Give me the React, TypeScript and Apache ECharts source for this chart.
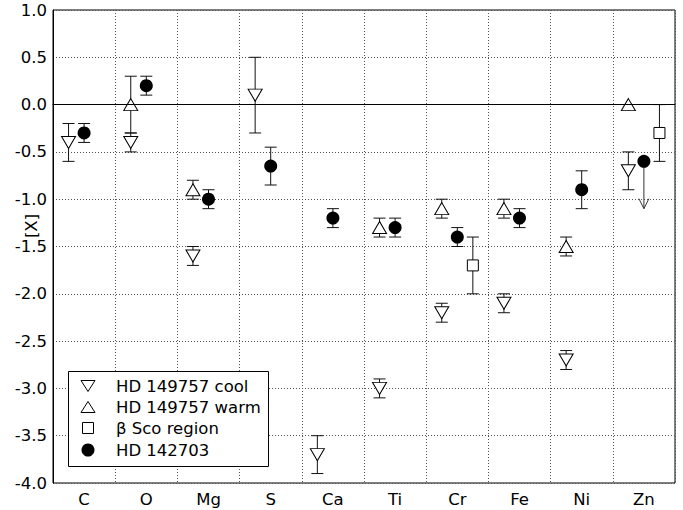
import React, { useEffect, useRef } from "react";
import * as echarts from "echarts";

const elements = ["C", "O", "Mg", "S", "Ca", "Ti", "Cr", "Fe", "Ni", "Zn"];
const yTicks = [-4, -3.5, -3, -2.5, -2, -1.5, -1, -0.5, 0, 0.5, 1];

const coolValues = [-0.4, -0.4, -1.6, 0.1, -3.7, -3.0, -2.2, -2.1, -2.7, -0.7];
const coolErrors = [0.2, 0.1, 0.1, 0.4, 0.2, 0.1, 0.1, 0.1, 0.1, 0.2];

const warmValues = [null, 0.0, -0.9, null, null, -1.3, -1.1, -1.1, -1.5, 0.0];
const warmErrors = [null, 0.3, 0.1, null, null, 0.1, 0.1, 0.1, 0.1, 0];

const scoValues = [null, null, null, null, null, null, -1.7, null, null, -0.3];
const scoErrors = [null, null, null, null, null, null, 0.3, null, null, 0.3];

const hdValues = [-0.3, 0.2, -1.0, -0.65, -1.2, -1.3, -1.4, -1.2, -0.9, -0.6];
const hdErrors = [0.1, 0.1, 0.1, 0.2, 0.1, 0.1, 0.1, 0.1, 0.2, null];
const hdUpperLimitEnd = [null, null, null, null, null, null, null, null, null, -1.1];

const seriesNames = ["HD 149757 cool", "HD 149757 warm", "β Sco region", "HD 142703"];

const FONT = "DejaVu Sans";

function points(values: (number | null)[], offset: number) {
  const out: number[][] = [];
  values.forEach((v, i) => {
    if (v !== null) out.push([i + 0.5 + offset, v]);
  });
  return out;
}

function errs(values: (number | null)[], errors: (number | null)[], offset: number) {
  const out: number[][] = [];
  values.forEach((v, i) => {
    const e = errors[i];
    if (v !== null && e !== null && e > 0) out.push([i + 0.5 + offset, v - e, v + e]);
  });
  return out;
}

function limits(values: (number | null)[], ends: (number | null)[], offset: number) {
  const out: number[][] = [];
  values.forEach((v, i) => {
    const e = ends[i];
    if (v !== null && e !== null) out.push([i + 0.5 + offset, v, e]);
  });
  return out;
}

const errorRender = (params: any, api: any) => {
  const x = api.value(0);
  const lo = api.coord([x, api.value(1)]);
  const hi = api.coord([x, api.value(2)]);
  const half = 6;
  const st = { stroke: "#111", lineWidth: 1 };
  return {
    type: "group",
    children: [
      { type: "line", shape: { x1: lo[0], y1: lo[1], x2: hi[0], y2: hi[1] }, style: st },
      { type: "line", shape: { x1: lo[0] - half, y1: lo[1], x2: lo[0] + half, y2: lo[1] }, style: st },
      { type: "line", shape: { x1: hi[0] - half, y1: hi[1], x2: hi[0] + half, y2: hi[1] }, style: st },
    ],
  };
};

const limitRender = (params: any, api: any) => {
  const x = api.value(0);
  const a = api.coord([x, api.value(1)]);
  const b = api.coord([x, api.value(2)]);
  const st = { stroke: "#333", lineWidth: 1, fill: "none" };
  return {
    type: "group",
    children: [
      { type: "line", shape: { x1: a[0], y1: a[1], x2: b[0], y2: b[1] }, style: st },
      {
        type: "polyline",
        shape: { points: [[b[0] - 5, b[1] - 10], [b[0], b[1]], [b[0] + 5, b[1] - 10]] },
        style: st,
      },
    ],
  };
};

export default function App() {
  const ref = useRef<HTMLDivElement>(null);
  useEffect(() => {
    if (!ref.current) return;
    const chart = echarts.init(ref.current, null, { renderer: "svg" });
    const open = { color: "#fff", borderColor: "#000", borderWidth: 1, opacity: 1 };
    const offCool = -0.25;
    const offWarm = -0.25;
    const offHd = 0;
    const offSco = 0.25;

    const lx = 88;
    const rows = [386, 407, 428, 450];

    chart.setOption({
      animation: false,
      backgroundColor: "#fff",
      grid: {
        left: 53,
        right: 8,
        top: 10,
        bottom: 27,
        show: true,
        borderColor: "#000",
        borderWidth: 1,
        backgroundColor: "transparent",
      },
      xAxis: [
        {
          type: "value",
          min: 0,
          max: 10,
          interval: 1,
          axisLine: { show: true, lineStyle: { color: "#000" } },
          axisTick: { show: false },
          axisLabel: { show: false },
          splitLine: { show: true, lineStyle: { color: "#555", type: [1, 2], width: 1 } },
        },
        {
          type: "category",
          data: elements,
          position: "bottom",
          boundaryGap: true,
          axisLine: { show: false },
          axisTick: { show: false },
          splitLine: { show: false },
          axisLabel: { color: "#000", fontFamily: FONT, fontSize: 16.5, margin: 8 },
        },
      ],
      yAxis: {
        type: "value",
        min: yTicks[0],
        max: yTicks[yTicks.length - 1],
        interval: 0.5,
        axisLine: { show: true, lineStyle: { color: "#000" } },
        axisTick: { show: false },
        axisLabel: {
          color: "#000",
          fontFamily: FONT,
          fontSize: 16.5,
          margin: 6,
          formatter: (v: number) => v.toFixed(1),
        },
        splitLine: { show: true, lineStyle: { color: "#555", type: [1, 2], width: 1 } },
      },
      graphic: [
        {
          type: "text",
          x: 31,
          y: 226,
          rotation: Math.PI / 2,
          style: {
            text: "[X]",
            fontFamily: FONT,
            fontSize: 16.5,
            fill: "#000",
            textAlign: "center",
            textVerticalAlign: "middle",
          },
          z: 10,
        },
        {
          type: "rect",
          shape: { x: 68.5, y: 371.5, width: 200, height: 95 },
          style: { fill: "#fff", stroke: "#000", lineWidth: 1 },
          z: 10,
        },
        {
          type: "polygon",
          shape: { points: [[lx - 7, rows[0] - 5.5], [lx + 7, rows[0] - 5.5], [lx, rows[0] + 5.5]] },
          style: { fill: "#fff", stroke: "#000", lineWidth: 1 },
          z: 11,
        },
        {
          type: "polygon",
          shape: { points: [[lx, rows[1] - 5.5], [lx + 7, rows[1] + 5.5], [lx - 7, rows[1] + 5.5]] },
          style: { fill: "#fff", stroke: "#000", lineWidth: 1 },
          z: 11,
        },
        {
          type: "rect",
          shape: { x: lx - 5.5, y: rows[2] - 5.5, width: 11, height: 11 },
          style: { fill: "#fff", stroke: "#000", lineWidth: 1 },
          z: 11,
        },
        {
          type: "circle",
          shape: { cx: lx, cy: rows[3], r: 6.5 },
          style: { fill: "#000" },
          z: 11,
        },
        ...seriesNames.map((name, i) => ({
          type: "text",
          x: 116,
          y: rows[i],
          style: {
            text: name,
            fontFamily: FONT,
            fontSize: 16.5,
            fill: "#000",
            textAlign: "left",
            textVerticalAlign: "middle",
          },
          z: 11,
        })),
      ],
      series: [
        {
          type: "custom",
          name: "cool errors",
          renderItem: errorRender,
          data: errs(coolValues, coolErrors, offCool),
          encode: { x: 0, y: [1, 2] },
          z: 2,
          silent: true,
          markLine: {
            silent: true,
            symbol: ["none", "none"],
            label: { show: false },
            lineStyle: { color: "#000", type: "solid", width: 1, opacity: 1 },
            data: [{ yAxis: 0 }],
          },
        },
        {
          type: "custom",
          name: "warm errors",
          renderItem: errorRender,
          data: errs(warmValues, warmErrors, offWarm),
          encode: { x: 0, y: [1, 2] },
          z: 2,
          silent: true,
        },
        {
          type: "custom",
          name: "sco errors",
          renderItem: errorRender,
          data: errs(scoValues, scoErrors, offSco),
          encode: { x: 0, y: [1, 2] },
          z: 2,
          silent: true,
        },
        {
          type: "custom",
          name: "hd errors",
          renderItem: errorRender,
          data: errs(hdValues, hdErrors, offHd),
          encode: { x: 0, y: [1, 2] },
          z: 2,
          silent: true,
        },
        {
          type: "custom",
          name: "hd limits",
          renderItem: limitRender,
          data: limits(hdValues, hdUpperLimitEnd, offHd),
          encode: { x: 0, y: [1, 2] },
          z: 2,
          silent: true,
        },
        {
          type: "scatter",
          name: seriesNames[0],
          symbol: "path://M0,0 L14,0 L7,12 Z",
          symbolSize: [14, 12],
          itemStyle: open,
          data: points(coolValues, offCool),
          z: 4,
        },
        {
          type: "scatter",
          name: seriesNames[1],
          symbol: "path://M7,0 L14,12 L0,12 Z",
          symbolSize: [14, 12],
          itemStyle: open,
          data: points(warmValues, offWarm),
          z: 4,
        },
        {
          type: "scatter",
          name: seriesNames[2],
          symbol: "rect",
          symbolSize: 11,
          itemStyle: open,
          data: points(scoValues, offSco),
          z: 4,
        },
        {
          type: "scatter",
          name: seriesNames[3],
          symbol: "circle",
          symbolSize: 13,
          itemStyle: { color: "#000", opacity: 1 },
          data: points(hdValues, offHd),
          z: 4,
        },
      ],
    });
    return () => chart.dispose();
  }, []);
  return (
    <div
      ref={ref}
      style={{ position: "fixed", left: 0, top: 0, width: 683, height: 510, background: "#fff" }}
    />
  );
}
